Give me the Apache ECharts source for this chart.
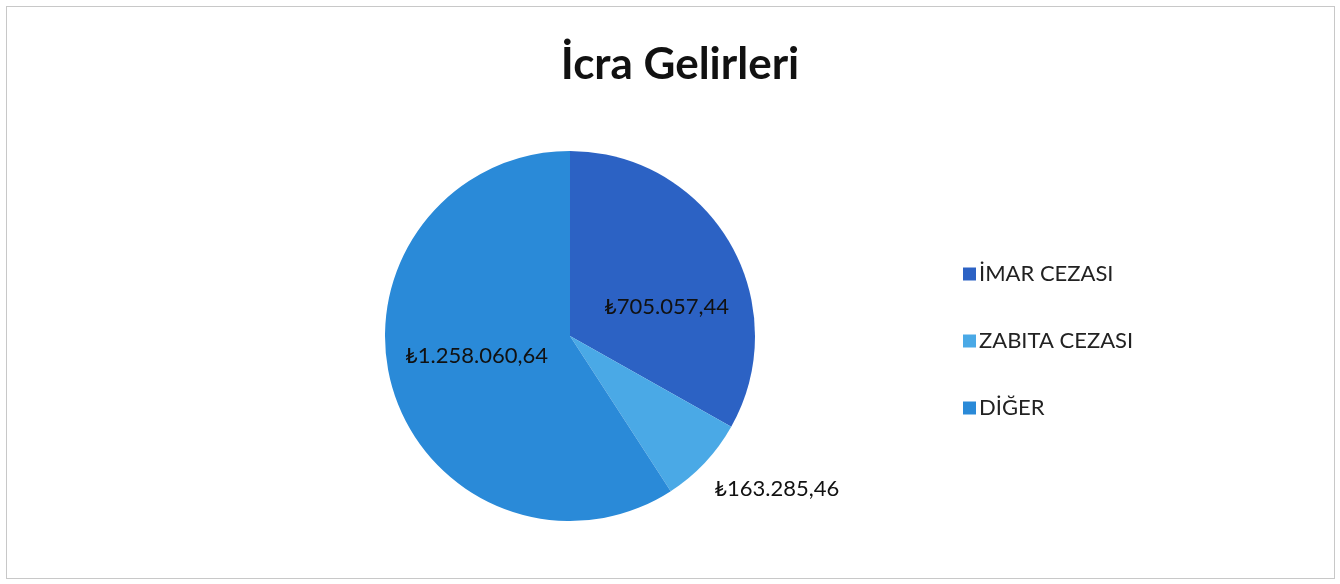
<!DOCTYPE html>
<html>
<head>
<meta charset="utf-8">
<script src="https://cdn.jsdelivr.net/npm/echarts@6/dist/echarts.min.js"></script>
<style>
  html, body { margin: 0; padding: 0; background: #fff; }
  #chart { width: 1340px; height: 584px; }
  .frame { position: absolute; left: 6px; top: 6px; width: 1327px; height: 571px; border: 1px solid #c8c8c8; pointer-events: none; }
</style>
</head>
<body>
<div id="chart"></div>
<div class="frame"></div>
<script>
const categories = ["İMAR CEZASI", "ZABITA CEZASI", "DİĞER"];
const values = [705057.44, 163285.46, 1258060.64];
const colors = ["#2c62c4", "#4aa9e6", "#2a8ad8"];

// turkish money format: 1.258.060,64
function tl(v) {
  const parts = v.toFixed(2).split(".");
  return "₺" + parts[0].replace(/\B(?=(\d{3})+(?!\d))/g, ".") + "," + parts[1];
}

const chart = echarts.init(document.getElementById("chart"));

const data = categories.map((name, i) => {
  const item = { name: name, value: values[i], itemStyle: { color: colors[i] } };
  if (i === 1) {
    item.label = { position: "outside", distance: 4, offset: [0, 22] };
    item.labelLine = { show: false, length: 6, length2: 0 };
  } else if (i === 0) {
    item.label = { position: "inside", offset: [14, 19] };
  } else {
    item.label = { position: "inside", offset: [-2, -7] };
  }
  return item;
});

chart.setOption({
  animation: false,
  title: {
    text: "İcra Gelirleri",
    left: 675,
    textAlign: "center",
    top: 38,
    textStyle: { fontFamily: "Lato", fontWeight: "bold", fontSize: 44, color: "#111" }
  },
  legend: {
    orient: "vertical",
    left: 958,
    top: 258,
    itemGap: 45,
    itemWidth: 13,
    itemHeight: 13,
    icon: "rect",
    textStyle: { fontFamily: "Lato", fontSize: 22, color: "#222", padding: [0, 0, 0, -2] },
    data: categories
  },
  series: [
    {
      type: "pie",
      center: [570, 336],
      radius: 185,
      startAngle: 90,
      clockwise: true,
      data: data,
      label: {
        show: true,
        formatter: (p) => tl(p.value),
        fontFamily: "Lato",
        fontSize: 22,
        color: "#111"
      },
      labelLine: { show: false },
      emphasis: { disabled: true }
    }
  ]
});
</script>
</body>
</html>
